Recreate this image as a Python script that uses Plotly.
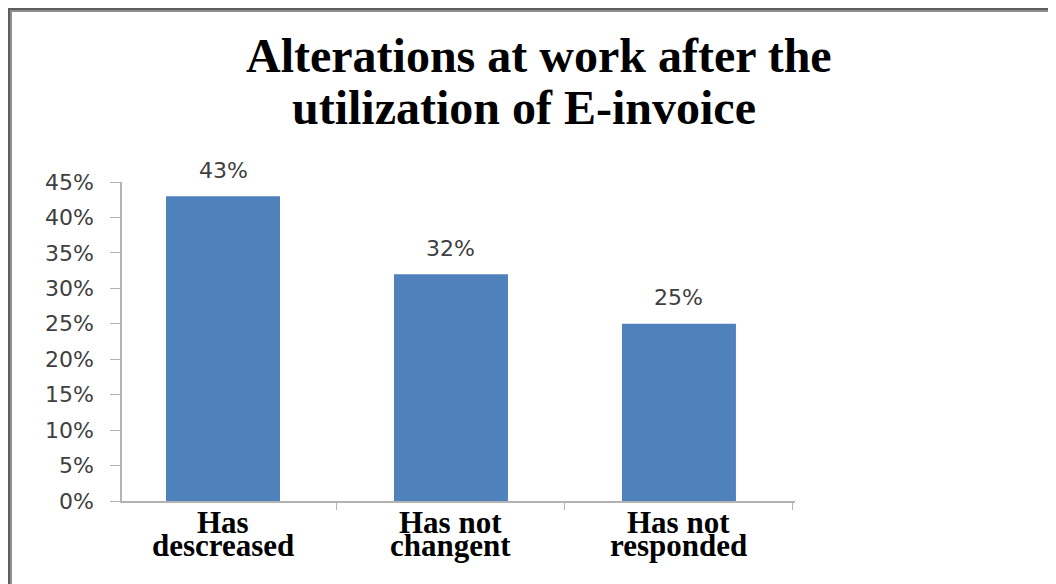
import plotly.graph_objects as go

# ---- data ----
categories = ["Has descreased", "Has not changent", "Has not responded"]
label_line1 = ["Has", "Has not", "Has not"]
label_line2 = ["descreased", "changent", "responded"]
values = [0.43, 0.32, 0.25]
title_lines = ["Alterations at work after the", "utilization of E-invoice"]

W, H = 1056, 584
OFF = 8  # page body margin offset
# plot area bounds in screen pixels
SL, SR, ST, SB = 122, 795, 182, 501
L, R, T, B = SL - OFF, SR - OFF, ST - OFF, SB - OFF


def px_x(px):
    return (px - OFF - L) / (R - L)


def px_y(py):
    return (B - (py - OFF)) / (B - T)


BAR = "#4F81BD"
GRAY_TXT = "#404040"
AXIS = "#B3B3B3"

fig = go.Figure()
fig.add_trace(go.Bar(
    x=categories, y=values, marker=dict(color=BAR, line=dict(width=0)),
    width=0.5, hoverinfo="skip",
))

annotations = []
# data labels
for c, v in zip(categories, values):
    annotations.append(dict(
        x=c, y=v, xref="x", yref="y", text=f"{v:.0%}", showarrow=False,
        yanchor="middle", yshift=26,
        font=dict(family="DejaVu Sans", size=22, color=GRAY_TXT)))
# category labels (two lines each)
for c, l1, l2 in zip(categories, label_line1, label_line2):
    annotations.append(dict(
        x=c, y=0, xref="x", yref="paper", text=f"<b>{l1}</b>", showarrow=False,
        yanchor="middle", yshift=-(522 - SB),
        font=dict(family="Liberation Serif", size=31, color="black")))
    annotations.append(dict(
        x=c, y=0, xref="x", yref="paper", text=f"<b>{l2}</b>", showarrow=False,
        yanchor="middle", yshift=-(545 - SB),
        font=dict(family="Liberation Serif", size=31, color="black")))
# title lines
title_centers = [(539, 55), (524, 107)]
for t, (cx, cy) in zip(title_lines, title_centers):
    annotations.append(dict(
        x=px_x(cx), y=px_y(cy), xref="paper", yref="paper", text=f"<b>{t}</b>",
        showarrow=False, xanchor="center", yanchor="middle",
        font=dict(family="Liberation Serif", size=48, color="black")))

shapes = [
    # outer frame (left and top edges)
    dict(type="line", xref="paper", yref="paper",
         x0=px_x(9), x1=px_x(9), y0=px_y(8), y1=px_y(600),
         line=dict(color="#8f8f8f", width=6)),
    dict(type="line", xref="paper", yref="paper",
         x0=px_x(6), x1=px_x(1070), y0=px_y(9), y1=px_y(9),
         line=dict(color="#8f8f8f", width=6)),
    dict(type="line", xref="paper", yref="paper",
         x0=px_x(9), x1=px_x(9), y0=px_y(8), y1=px_y(600),
         line=dict(color="#5e5e5e", width=2)),
    dict(type="line", xref="paper", yref="paper",
         x0=px_x(6), x1=px_x(1070), y0=px_y(9), y1=px_y(9),
         line=dict(color="#5e5e5e", width=2)),
]

fig.update_layout(
    width=W, height=H,
    margin=dict(l=L, r=W - R, t=T, b=H - B, pad=0),
    paper_bgcolor="white", plot_bgcolor="white",
    showlegend=False,
    annotations=annotations,
    shapes=shapes,
    xaxis=dict(
        range=[-0.443, 2.509], showticklabels=False, showgrid=False,
        showline=True, linecolor=AXIS, linewidth=1.5,
        ticks="outside", tickson="boundaries", ticklen=7, tickcolor=AXIS,
        zeroline=False, fixedrange=True,
    ),
    yaxis=dict(
        range=[0, 0.45], dtick=0.05, tick0=0, tickformat=".0%",
        showgrid=False, zeroline=False,
        showline=True, linecolor=AXIS, linewidth=1.5,
        ticks="outside", ticklen=10, tickcolor=AXIS,
        ticklabelstandoff=12,
        tickfont=dict(family="DejaVu Sans", size=22, color=GRAY_TXT),
        fixedrange=True,
    ),
)

fig.write_html("out.html")
